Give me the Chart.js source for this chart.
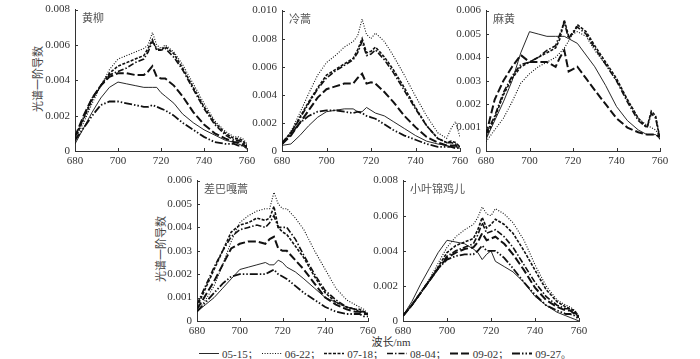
<!DOCTYPE html>
<html>
<head>
<meta charset="utf-8">
<script src="https://cdn.jsdelivr.net/npm/chart.js@4.4.0/dist/chart.umd.min.js"></script>
<style>
  body { margin: 0; background: #fff; width: 700px; height: 359px; position: relative; overflow: hidden;
         font-family: "Liberation Serif", "Times New Roman", "DejaVu Serif", serif; color: #333; }
  canvas.panel { position: absolute; }
  .ytitle { position: absolute; font-family: "Noto Sans CJK SC"; font-size: 11px; color: #444;
            transform: translate(-50%, -50%) rotate(-90deg); white-space: nowrap; }
  #xtitle { position: absolute; left: 391px; top: 341px; transform: translate(-50%, -50%);
            font-size: 11px; white-space: nowrap; color: #333; }
  #xtitle .cjk { font-family: "Noto Sans CJK SC"; }
  #legend { position: absolute; left: 387px; top: 353px; transform: translate(-50%, -50%);
            display: flex; align-items: center; font-size: 11px; white-space: nowrap; color: #333; }
  #legend .item { display: flex; align-items: center; }
  #legend svg { margin-right: 3px; }
  #legend .sep { font-family: "Noto Sans CJK SC"; font-size: 10px; margin-right: 4px; }
</style>
</head>
<body>
<div class="ytitle" style="left:37px; top:79px;">光谱一阶导数</div>
<div class="ytitle" style="left:160px; top:249px;">光谱一阶导数</div>
<div id="xtitle"><span class="cjk">波长</span>/nm</div>
<div id="legend"></div>

<script>
// shared wavelength grid (nm)
const wavelengths = [680, 684, 688, 692, 696, 700, 704, 708, 712, 714, 716, 718, 720, 722, 726, 730, 735, 740, 745, 750, 754, 756, 758, 760];
const dates = ['05-15', '06-22', '07-18', '08-04', '09-02', '09-27'];

// 黄柳 — one row per date
const huangliu = [
  [.0004, .0013, .0022, .0030, .0036, .0039, .0038, .0037, .0036, .0036, .0036, .0036, .0033, .0031, .0027, .0021, .0016, .0012, .0009, .0006, .0005, .0004, .0003, .0001],
  [.0006, .0016, .0027, .0037, .0046, .0052, .0054, .0056, .0058, .0060, .0067, .0060, .0058, .0060, .0056, .0049, .0038, .0027, .0017, .0011, .0008, .0008, .0007, .0004],
  [.0007, .0018, .0029, .0037, .0044, .0048, .0050, .0052, .0054, .0058, .0063, .0057, .0057, .0059, .0055, .0047, .0036, .0025, .0016, .0010, .0007, .0007, .0006, .0003],
  [.0008, .0019, .0030, .0037, .0043, .0045, .0047, .0050, .0052, .0056, .0062, .0058, .0057, .0058, .0053, .0046, .0035, .0024, .0015, .0009, .0006, .0006, .0005, .0003],
  [.0008, .0020, .0030, .0037, .0042, .0044, .0044, .0043, .0043, .0045, .0048, .0042, .0041, .0041, .0037, .0031, .0022, .0015, .0010, .0007, .0005, .0005, .0004, .0002],
  [.0006, .0013, .0020, .0026, .0028, .0028, .0027, .0026, .0025, .0025, .0026, .0025, .0024, .0023, .0020, .0016, .0012, .0008, .0005, .0004, .0004, .0003, .0003, .0002]
];

// 冷蒿
const lenghao = [
  [.0004, .0005, .0011, .0018, .0024, .0028, .0029, .0030, .0030, .0028, .0028, .0031, .0029, .0027, .0025, .0021, .0016, .0011, .0007, .0005, .0004, .0003, .0003, .0002],
  [.0005, .0014, .0027, .0041, .0054, .0063, .0068, .0074, .0078, .0082, .0094, .0083, .0080, .0084, .0078, .0068, .0054, .0039, .0025, .0013, .0009, .0016, .0021, .0010],
  [.0005, .0013, .0024, .0035, .0045, .0054, .0058, .0062, .0066, .0072, .0080, .0070, .0071, .0074, .0067, .0058, .0045, .0031, .0018, .0009, .0006, .0007, .0006, .0003],
  [.0006, .0013, .0023, .0034, .0044, .0052, .0057, .0061, .0065, .0070, .0078, .0068, .0069, .0072, .0065, .0056, .0043, .0030, .0018, .0009, .0006, .0006, .0005, .0003],
  [.0005, .0011, .0020, .0029, .0038, .0044, .0046, .0048, .0048, .0052, .0055, .0048, .0049, .0048, .0042, .0035, .0025, .0017, .0010, .0006, .0004, .0004, .0004, .0002],
  [.0005, .0012, .0020, .0025, .0028, .0029, .0029, .0028, .0027, .0028, .0027, .0025, .0024, .0023, .0019, .0015, .0011, .0008, .0005, .0003, .0003, .0003, .0002, .0002]
];

// 麻黄 (no 09-27 curve)
const mahuang = [
  [.0005, .0013, .0021, .0030, .0042, .0051, .0050, .0049, .0049, .0049, .0049, .0048, .0047, .0046, .0041, .0036, .0028, .0019, .0013, .0009, .0007, .0007, .0007, .0005],
  [.0004, .0009, .0014, .0021, .0029, .0033, .0036, .0038, .0040, .0042, .0044, .0047, .0050, .0051, .0049, .0043, .0037, .0030, .0022, .0014, .0011, .0010, .0009, .0006],
  [.0006, .0014, .0024, .0031, .0036, .0038, .0040, .0042, .0044, .0048, .0056, .0049, .0050, .0054, .0051, .0045, .0038, .0031, .0022, .0014, .0010, .0017, .0015, .0005],
  [.0007, .0015, .0025, .0032, .0037, .0038, .0040, .0043, .0045, .0050, .0055, .0048, .0051, .0053, .0050, .0044, .0037, .0030, .0021, .0013, .0010, .0016, .0014, .0005],
  [.0007, .0022, .0030, .0036, .0041, .0038, .0038, .0038, .0036, .0040, .0043, .0034, .0035, .0036, .0031, .0026, .0020, .0014, .0010, .0008, .0007, .0007, .0007, .0006]
];

// 差巴嘎蒿
const chabagahao = [
  [.0004, .0007, .0010, .0014, .0018, .0022, .0023, .0024, .0025, .0024, .0024, .0026, .0025, .0023, .0021, .0018, .0014, .0010, .0008, .0006, .0005, .0004, .0004, .0003],
  [.0004, .0009, .0015, .0024, .0034, .0042, .0045, .0047, .0048, .0048, .0055, .0050, .0048, .0048, .0044, .0039, .0030, .0022, .0014, .0009, .0007, .0006, .0005, .0003],
  [.0006, .0014, .0022, .0030, .0038, .0041, .0042, .0044, .0043, .0044, .0049, .0040, .0038, .0037, .0032, .0027, .0019, .0012, .0008, .0006, .0005, .0005, .0004, .0003],
  [.0007, .0015, .0023, .0030, .0036, .0039, .0040, .0041, .0040, .0042, .0045, .0040, .0040, .0040, .0035, .0028, .0020, .0013, .0009, .0006, .0005, .0004, .0004, .0003],
  [.0005, .0011, .0017, .0024, .0031, .0033, .0034, .0034, .0033, .0035, .0036, .0031, .0030, .0030, .0026, .0022, .0016, .0010, .0007, .0005, .0004, .0004, .0003, .0003],
  [.0004, .0008, .0012, .0016, .0019, .0020, .0020, .0020, .0020, .0021, .0022, .0020, .0019, .0018, .0015, .0012, .0009, .0006, .0004, .0003, .0003, .0003, .0002, .0002]
];

// 小叶锦鸡儿
const xiaoyejinjier = [
  [.0003, .0011, .0021, .0030, .0039, .0046, .0045, .0044, .0041, .0039, .0035, .0038, .0040, .0034, .0031, .0028, .0022, .0014, .0009, .0005, .0003, .0002, .0001, .0000],
  [.0003, .0009, .0016, .0024, .0033, .0042, .0048, .0052, .0055, .0059, .0065, .0061, .0060, .0064, .0061, .0056, .0046, .0032, .0020, .0012, .0009, .0008, .0006, .0003],
  [.0003, .0009, .0016, .0023, .0031, .0039, .0043, .0045, .0047, .0052, .0059, .0053, .0055, .0058, .0055, .0050, .0040, .0029, .0018, .0011, .0008, .0007, .0006, .0002],
  [.0003, .0009, .0016, .0023, .0030, .0037, .0040, .0042, .0044, .0049, .0056, .0050, .0051, .0052, .0048, .0042, .0032, .0022, .0014, .0009, .0007, .0007, .0005, .0002],
  [.0003, .0009, .0016, .0023, .0030, .0036, .0039, .0041, .0042, .0045, .0050, .0046, .0047, .0048, .0044, .0038, .0029, .0019, .0012, .0008, .0006, .0006, .0004, .0002],
  [.0003, .0009, .0016, .0023, .0030, .0035, .0037, .0038, .0038, .0040, .0043, .0040, .0040, .0040, .0036, .0030, .0022, .0015, .0009, .0006, .0004, .0004, .0003, .0001]
];

// line look per date
const lineStyles = {
  '05-15': { dash: [], width: 0.9 },
  '06-22': { dash: [1, 1.6], width: 1.1 },
  '07-18': { dash: [3, 1.5], width: 1.6 },
  '08-04': { dash: [6, 2, 1.5, 2], width: 1.6 },
  '09-02': { dash: [8, 3], width: 2 },
  '09-27': { dash: [8, 2, 1.5, 2, 1.5, 2], width: 1.8 }
};

const axisColor = '#333';
const tickFont = { family: '"Liberation Serif", "Times New Roman", serif', size: 11 };

// small inward tick marks + species name in the corner
const panelExtras = {
  id: 'panelExtras',
  afterDraw(chart, args, opts) {
    const { ctx, chartArea, scales } = chart;
    ctx.save();
    ctx.strokeStyle = axisColor;
    ctx.lineWidth = 1;
    ctx.beginPath();
    scales.x.ticks.forEach(t => {
      const px = Math.round(scales.x.getPixelForValue(t.value)) + 0.5;
      ctx.moveTo(px, chartArea.bottom);
      ctx.lineTo(px, chartArea.bottom - 3);
    });
    scales.y.ticks.forEach(t => {
      const py = Math.round(scales.y.getPixelForValue(t.value)) + 0.5;
      ctx.moveTo(chartArea.left, py);
      ctx.lineTo(chartArea.left + 3, py);
    });
    ctx.stroke();
    ctx.fillStyle = '#555';
    ctx.font = '11px "Noto Sans CJK SC"';
    ctx.textBaseline = 'middle';
    ctx.fillText(opts.name, chartArea.left + 7, chartArea.top + 8);
    ctx.restore();
  }
};

function makePanel(name, rows, yMax, yStep, box) {
  const padL = 40, padT = 8, padR = 15, axisH = 20;
  const w = padL + (box.right - box.left) + padR;
  const h = padT + (box.bottom - box.top) + axisH;

  const canvas = document.createElement('canvas');
  canvas.className = 'panel';
  canvas.width = w;
  canvas.height = h;
  canvas.style.width = w + 'px';
  canvas.style.height = h + 'px';
  canvas.style.left = (box.left - padL) + 'px';
  canvas.style.top = (box.top - padT) + 'px';
  document.body.appendChild(canvas);

  const datasets = rows.map((vals, i) => {
    const st = lineStyles[dates[i]];
    return {
      label: dates[i],
      data: wavelengths.map((x, j) => ({ x: x, y: vals[j] })),
      borderColor: '#111',
      borderWidth: st.width,
      borderDash: st.dash,
      pointRadius: 0,
      fill: false,
      tension: 0
    };
  });

  return new Chart(canvas.getContext('2d'), {
    type: 'line',
    data: { datasets: datasets },
    options: {
      responsive: false,
      animation: false,
      layout: { padding: { top: padT, right: padR, left: 0, bottom: 0 } },
      plugins: {
        legend: { display: false },
        tooltip: { enabled: false },
        panelExtras: { name: name }
      },
      scales: {
        x: {
          type: 'linear',
          min: 680,
          max: 760,
          afterFit: s => { s.height = axisH; },
          ticks: { stepSize: 20, color: axisColor, font: tickFont, padding: 4, maxRotation: 0 },
          grid: { display: false, drawTicks: false },
          border: { color: axisColor, width: 1 }
        },
        y: {
          min: 0,
          max: yMax,
          afterFit: s => { s.width = padL; },
          ticks: {
            stepSize: yStep,
            color: axisColor,
            font: tickFont,
            padding: 5,
            callback: v => (v === 0 ? '0' : v.toFixed(3))
          },
          grid: { display: false, drawTicks: false },
          border: { color: axisColor, width: 1 }
        }
      }
    },
    plugins: [panelExtras]
  });
}

makePanel('黄柳', huangliu, 0.008, 0.002, { left: 75, right: 247, top: 6, bottom: 151 });
makePanel('冷蒿', lenghao, 0.010, 0.002, { left: 282, right: 460, top: 7, bottom: 151 });
makePanel('麻黄', mahuang, 0.006, 0.001, { left: 486, right: 660, top: 7, bottom: 151 });
makePanel('差巴嘎蒿', chabagahao, 0.006, 0.001, { left: 197, right: 368, top: 177, bottom: 321 });
makePanel('小叶锦鸡儿', xiaoyejinjier, 0.008, 0.002, { left: 403, right: 579, top: 177, bottom: 321 });

// legend row at the bottom
const legend = document.getElementById('legend');
dates.forEach((d, i) => {
  const st = lineStyles[d];
  const item = document.createElement('span');
  item.className = 'item';
  const dash = st.dash.length ? st.dash.join(' ') : 'none';
  item.innerHTML =
    '<svg width="20" height="6"><line x1="0" y1="3" x2="20" y2="3" stroke="#111" stroke-width="' + st.width +
    '" stroke-dasharray="' + dash + '"/></svg>' +
    '<span>' + d + '</span><span class="sep">' + (i === dates.length - 1 ? '。' : '；') + '</span>';
  legend.appendChild(item);
});
</script>
</body>
</html>
